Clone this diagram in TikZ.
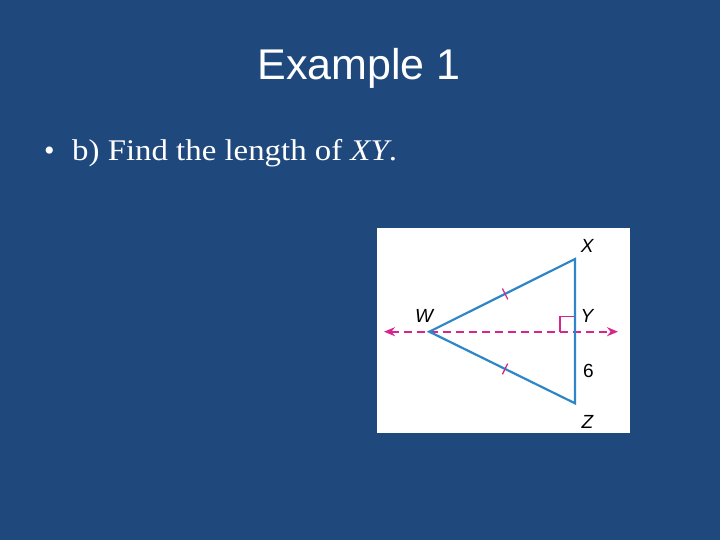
\documentclass[tikz,border=0pt]{standalone}
\usepackage{fontspec}
\setmainfont{Liberation Serif}
\setsansfont{Liberation Sans}
\usetikzlibrary{arrows.meta,calc}
\definecolor{bg}{HTML}{1F497D}
\definecolor{segblue}{HTML}{2E86C8}
\definecolor{mag}{HTML}{D6268E}
\tikzset{
  seg/.style={draw=segblue, line width=2.2pt},
  magline/.style={draw=mag, line width=1.8pt},
  lbl/.style={font=\sffamily\itshape\fontsize{19}{19}\selectfont, text=black, inner sep=0pt},
}
\begin{document}
\begin{tikzpicture}[x=1pt,y=-1pt]
\fill[bg] (0,0) rectangle (720,540);
\useasboundingbox (0,0) rectangle (720,540);
\node[font=\sffamily\fontsize{43}{43}\selectfont, text=white] (title) at (359,68) {Example 1};
\node[font=\fontsize{30}{30}\selectfont, text=white, anchor=base west, inner sep=0pt] (bullet) at (44,161) {•};
\node[font=\fontsize{30}{30}\selectfont, text=white, anchor=base west, inner sep=0pt] (q) at (72,161) {\scalebox{1.095}[1]{b) Find the length of \textit{XY}.}};
\fill[white] (377,228) rectangle (630,433);
\coordinate (W) at (429.3,331.7);
\coordinate (X) at (575,259);
\coordinate (Z) at (575,403.3);
\coordinate (Y) at (575,331.7);
\coordinate (L) at (384,331.7);
\coordinate (R) at (618,331.7);
\draw[magline, dash pattern=on 8pt off 5pt, {Stealth[length=11pt,width=9pt]}-{Stealth[length=11pt,width=9pt]}] (L) -- (R);
\draw[magline, line width=1.3pt] (560,331.7) -- (560,316.7) -- (575,316.7);
\draw[seg] (W) -- (X) -- (Z) -- cycle;
\path (W) -- (X) coordinate[pos=0.52] (m1);
\path (W) -- (Z) coordinate[pos=0.52] (m2);
\draw[magline, line width=1.3pt] ($(m1)!6pt!90:(X)$) -- ($(m1)!6pt!-90:(X)$);
\draw[magline, line width=1.3pt] ($(m2)!6pt!90:(Z)$) -- ($(m2)!6pt!-90:(Z)$);
\node[lbl] (lx) at (587.3,245.7) {X};
\node[lbl] (lw) at (424,315.7) {W};
\node[lbl] (ly) at (587,315.7) {Y};
\node[lbl, font=\sffamily\fontsize{19}{19}\selectfont] (l6) at (588.3,371) {6};
\node[lbl] (lz) at (587.3,421.7) {Z};
\end{tikzpicture}
\end{document}
